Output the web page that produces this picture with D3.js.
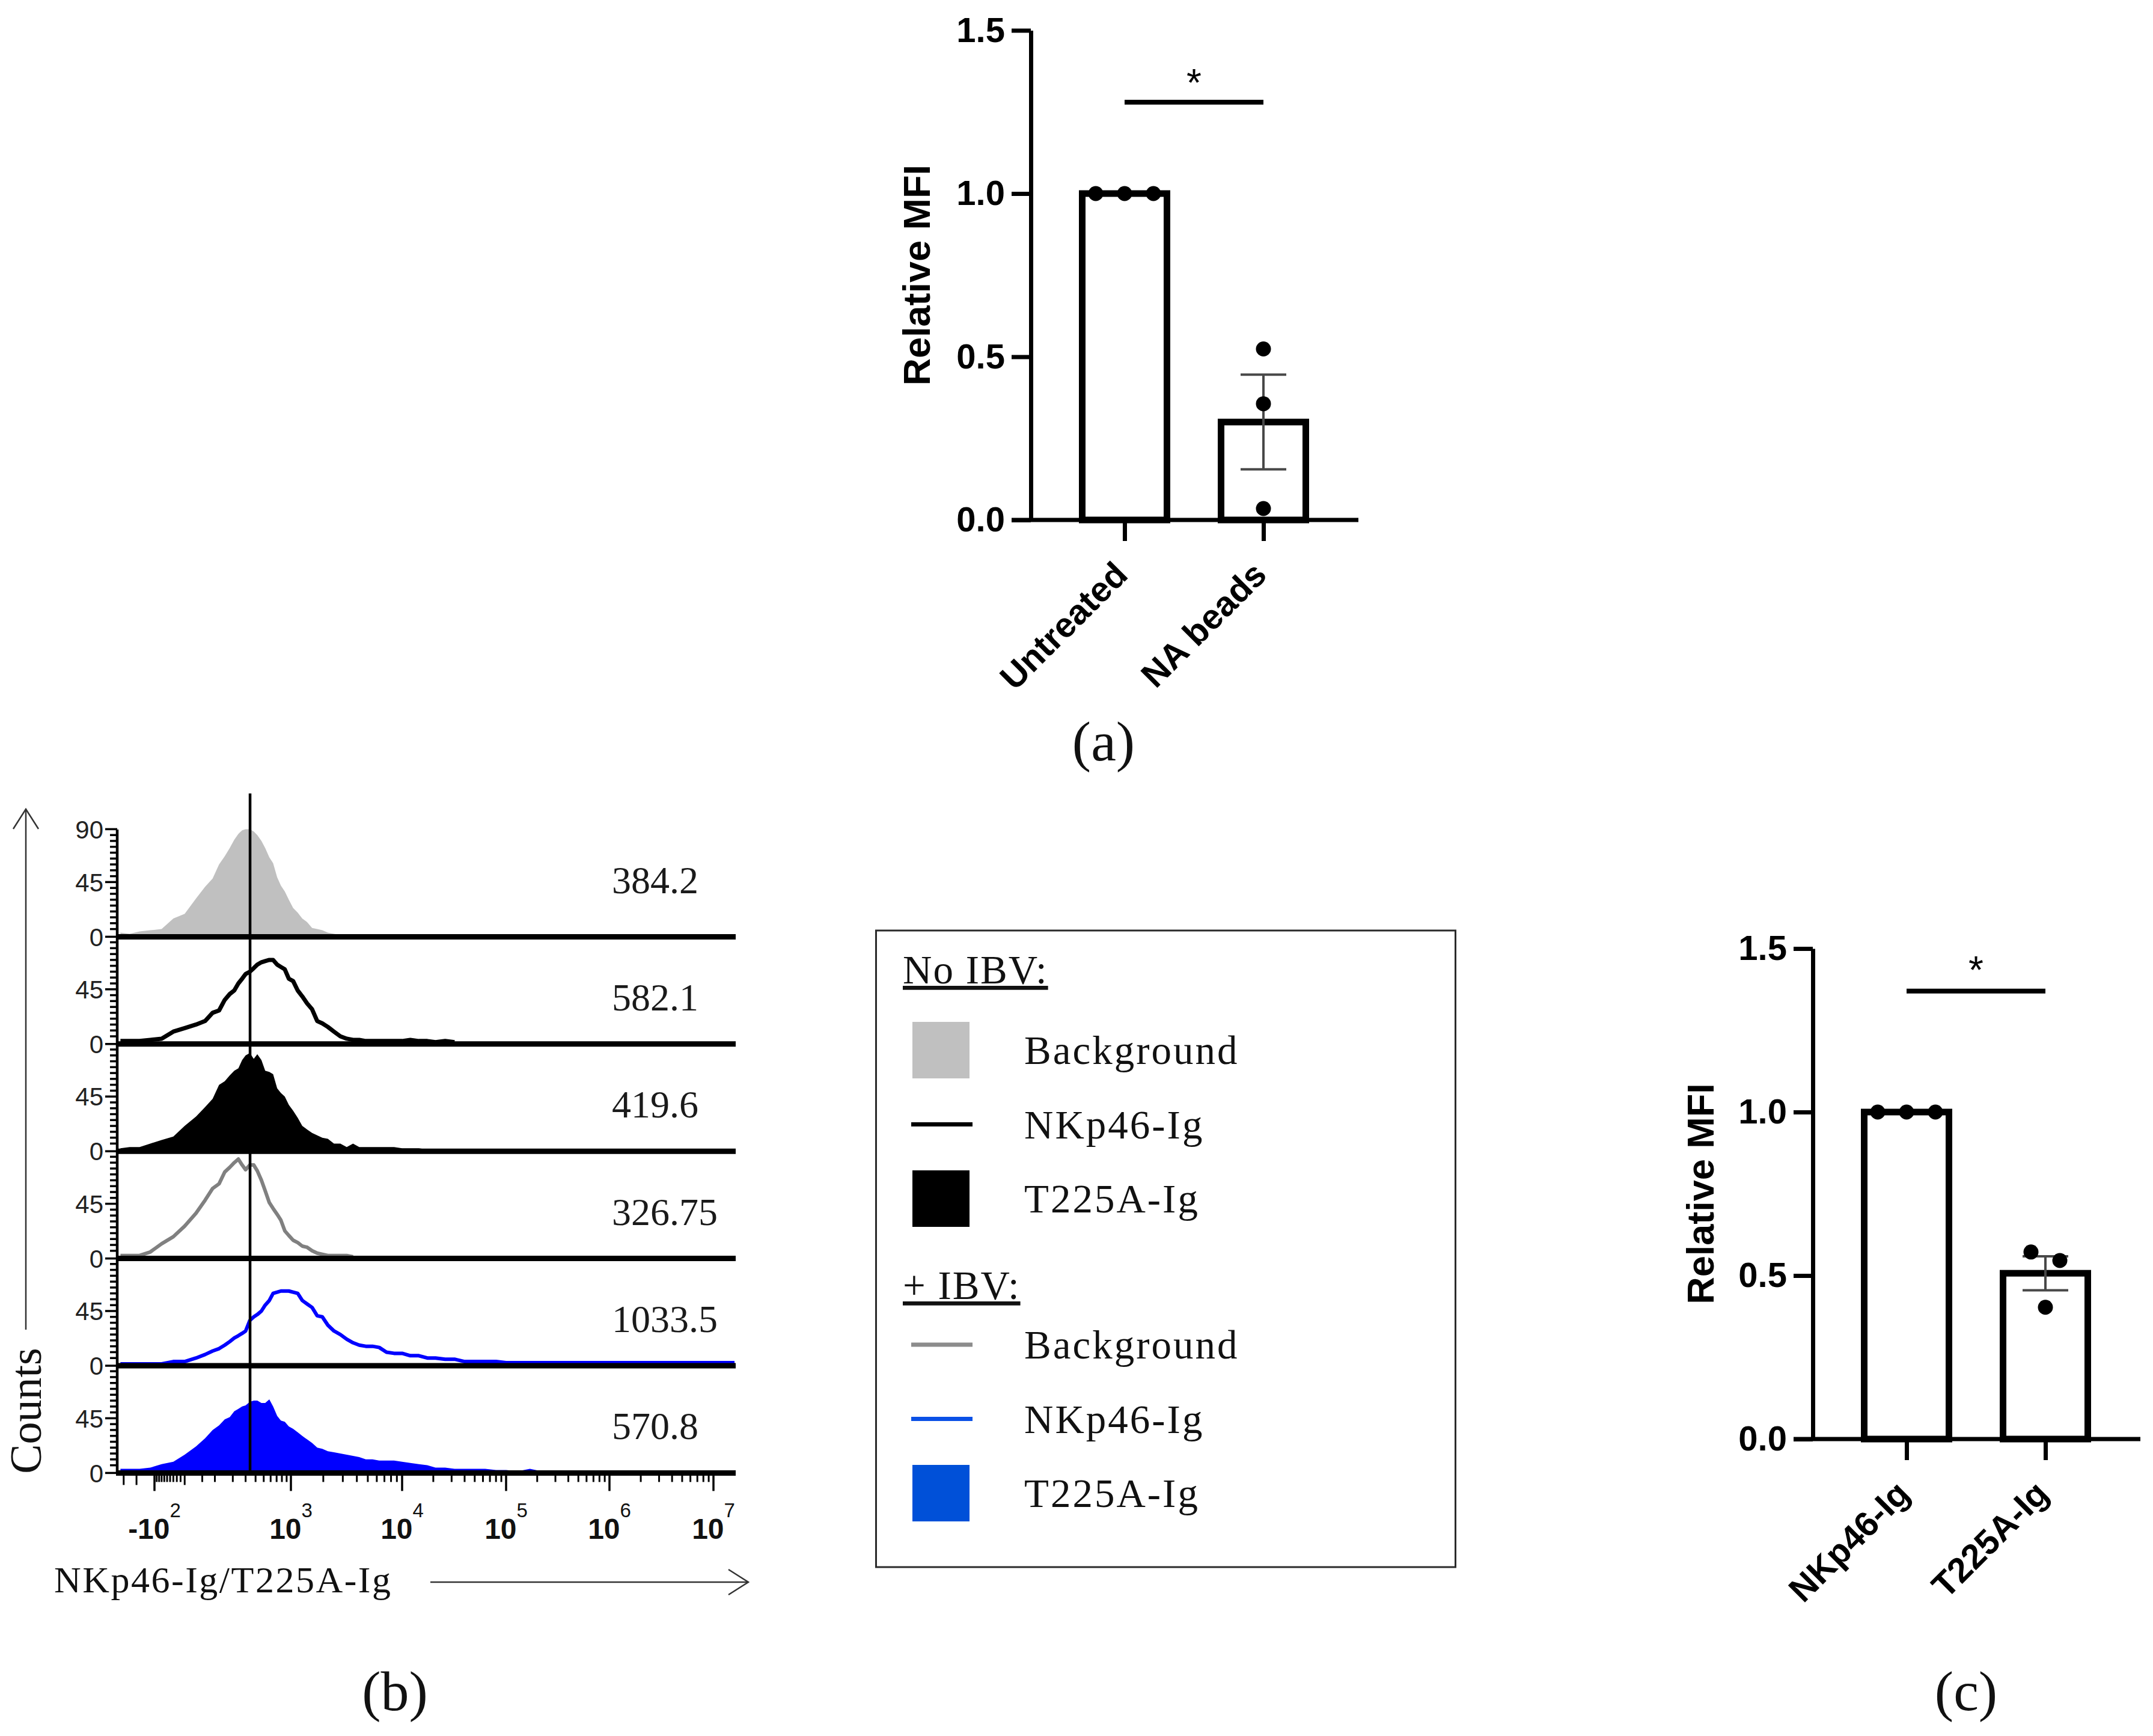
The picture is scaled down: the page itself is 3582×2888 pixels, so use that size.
<!DOCTYPE html>
<html>
<head>
<meta charset="utf-8">
<script src="https://cdn.jsdelivr.net/npm/d3@7"></script>
<style>
  body { margin: 0; background: #fff; }
</style>
</head>
<body>
<div id="chart"></div>
<script>
// ---- (a) Relative MFI, untreated vs NA beads
const groupsA = ["Untreated", "NA beads"];
const meansA = [1.0, 0.30];
const semsA = [0, 0.145];
const pointsA = [[1.0, 1.0, 1.0], [0.524, 0.356, 0.035]];
const sigA = { line: 1.28, star: 1.365 };

// ---- (c) Relative MFI, NKp46-Ig vs T225A-Ig
const groupsC = ["NKp46-Ig", "T225A-Ig"];
const meansC = [1.0, 0.507];
const semsC = [0, 0.052];
const pointsC = [[1.0, 1.0, 1.0], [0.572, 0.546, 0.403]];
const sigC = { line: 1.37, star: 1.46 };

const relTicks = [0, 0.5, 1.0, 1.5];

// ---- (b) flow histograms: shared bin positions (fluorescence) and counts per bin
const binValues = [-330, -250, -180, -120, -70, -30, 0, 30, 60, 90, 120, 150, 180, 210, 240, 270, 300,
  340, 380, 420, 470, 520, 580, 640, 710, 780, 860, 950, 1050, 1160, 1280, 1420, 1580, 1760, 1960,
  2200, 2500, 2850, 3250, 3700, 4200, 4800, 5500, 6300, 7300, 8500, 10000, 12000, 14500, 17500,
  21000, 26000, 32000, 40000, 50000, 63000, 80000, 100000, 130000, 170000, 220000, 300000,
  1000000, 10000000, 16000000];

const histBgNoIbv = [2, 1, 3, 4, 5, 14, 18, 31, 41, 48, 60, 67, 74, 81, 86, 89, 90, 90, 88, 85, 80, 74,
  66, 61, 49, 42, 37, 30, 23, 19, 14, 11, 6, 5, 4, 2, 1, 0];
const histNkp46NoIbv = [1, 1, 1, 2, 3, 9, 12, 15, 18, 25, 27, 36, 41, 44, 50, 54, 58, 60, 63, 66, 68, 69,
  70, 70, 66, 64, 62, 54, 52, 44, 39, 33, 28, 18, 16, 13, 9, 5, 3, 2, 2, 1, 1, 1, 1, 1, 1, 2, 1, 1, 0, 1, 0];
const histT225aNoIbv = [1, 2, 2, 5, 8, 11, 20, 28, 36, 43, 55, 58, 63, 67, 69, 76, 80, 82, 77, 81, 76, 67,
  66, 64, 52, 48, 45, 38, 33, 27, 20, 17, 14, 12, 10, 9, 5, 5, 2, 5, 2, 2, 2, 2, 2, 2, 1, 1, 1, 0];
const histBgIbv = [1, 1, 1, 4, 11, 17, 26, 37, 48, 58, 62, 72, 76, 80, 83, 78, 74, 78, 78, 73, 65, 56,
  46, 41, 36, 31, 22, 18, 14, 12, 9, 8, 5, 3, 2, 1, 1, 1, 1, 0];
const histNkp46Ibv = [0, 0, 0, 0, 0, 2, 2, 5, 8, 11, 13, 16, 19, 22, 24, 26, 28, 37, 40, 42, 45, 50,
  54, 60, 61, 62, 62, 62, 61, 60, 54, 51, 48, 41, 40, 33, 28, 25, 21, 18, 16, 15, 15, 14, 10, 9, 9,
  7, 7, 5, 5, 4, 4, 2, 2, 2, 2, 1, 1, 1, 1, 1, 1, 1, 1];
const histT225aIbv = [2, 2, 2, 3, 6, 8, 14, 21, 28, 35, 39, 44, 46, 51, 53, 55, 56, 59, 60, 60, 58, 58,
  61, 55, 47, 43, 42, 38, 36, 33, 30, 27, 24, 20, 19, 17, 16, 15, 14, 13, 12, 10, 10, 9, 9, 9, 8, 7,
  6, 5, 3, 3, 2, 2, 2, 2, 1, 1, 0, 2, 0];

const mfiLabels = ["384.2", "582.1", "419.6", "326.75", "1033.5", "570.8"];
const gateValue = 342;

const countTickLabels = [0, 45, 90];
const decadeTicks = [-100, 1e3, 1e4, 1e5, 1e6, 1e7];
const decadeTickLabels = [["-10", "2"], ["10", "3"], ["10", "4"], ["10", "5"], ["10", "6"], ["10", "7"]];

const legendHeaders = ["No IBV:", "+ IBV:"];
const legendNames = ["Background", "NKp46-Ig", "T225A-Ig"];

const W = 3582, H = 2888;
const sansFont = "Arial, 'Liberation Sans', Helvetica, sans-serif";
const serifFont = "'Palatino Linotype', 'Book Antiqua', Palatino, 'Liberation Serif', serif";

const svg = d3.select("#chart").append("svg")
  .attr("width", W)
  .attr("height", H)
  .attr("viewBox", `0 0 ${W} ${H}`)
  .style("background", "#fff");

// spread dots horizontally when they overlap (GraphPad-like scatter)
function swarm(values, y, r, step) {
  const placed = [];
  values.forEach(v => {
    const py = y(v);
    for (let k = 0; k < 12; k++) {
      const dx = k === 0 ? 0 : (k % 2 ? 1 : -1) * Math.ceil(k / 2) * step;
      if (placed.every(q => Math.hypot(dx - q.dx, py - q.y) >= 2 * r + 2)) {
        placed.push({ v, y: py, dx });
        break;
      }
    }
  });
  const clusters = [];
  placed.forEach(q => {
    const c = clusters.find(c => c.some(o => Math.abs(o.y - q.y) < 2 * r + 2));
    c ? c.push(q) : clusters.push([q]);
  });
  clusters.forEach(c => {
    const m = d3.mean(c, o => o.dx);
    c.forEach(o => (o.dx -= m));
  });
  return placed;
}

function drawBarPanel(p) {
  const y = d3.scaleLinear().domain([0, 1.5]).range([p.zeroY, p.zeroY - 1.5 * p.unit]);
  const x = d3.scalePoint().domain(p.groups).range([p.axisX + 156, p.axisX + 387]);
  const barW = 141;
  const g = svg.append("g");

  // bars
  g.selectAll("rect")
    .data(p.groups)
    .join("rect")
    .attr("x", d => x(d) - barW / 2)
    .attr("y", (d, i) => y(p.means[i]))
    .attr("width", barW)
    .attr("height", (d, i) => p.zeroY - y(p.means[i]))
    .attr("fill", "#fff")
    .attr("stroke", "#000")
    .attr("stroke-width", 11);

  // y axis
  const yAxis = g.append("g")
    .attr("transform", `translate(${p.axisX},0)`)
    .call(d3.axisLeft(y).tickValues(relTicks).tickFormat(d3.format(".1f"))
      .tickSize(32).tickSizeOuter(0).tickPadding(11));
  yAxis.select(".domain").attr("stroke-width", 7);
  yAxis.selectAll(".tick line").attr("stroke-width", 7);
  yAxis.selectAll(".tick text")
    .attr("font-family", sansFont)
    .attr("font-size", 58)
    .attr("font-weight", "bold")
    .attr("fill", "#000");

  // x axis
  g.append("line")
    .attr("x1", p.axisX - 32).attr("x2", p.axisX + 545)
    .attr("y1", p.zeroY).attr("y2", p.zeroY)
    .attr("stroke", "#000").attr("stroke-width", 7);
  const xAxis = g.append("g")
    .attr("transform", `translate(0,${p.zeroY})`)
    .call(d3.axisBottom(x).tickSize(35).tickSizeOuter(0).tickFormat(""));
  xAxis.select(".domain").remove();
  xAxis.selectAll(".tick line").attr("stroke-width", 7);

  g.selectAll("text.xlab")
    .data(p.groups)
    .join("text")
    .attr("class", "xlab")
    .attr("transform", d => `translate(${x(d) - 6},${p.zeroY + 80}) rotate(-45)`)
    .attr("text-anchor", "end")
    .attr("dy", "0.35em")
    .attr("font-family", sansFont)
    .attr("font-size", 58)
    .attr("font-weight", "bold")
    .text(d => d);

  // axis title
  g.append("text")
    .attr("transform", `translate(${p.titleX},${(y(0) + y(1.5)) / 2}) rotate(-90)`)
    .attr("text-anchor", "middle")
    .attr("dy", "0.36em")
    .attr("font-family", sansFont)
    .attr("font-size", 63)
    .attr("font-weight", "bold")
    .text("Relative MFI");

  // error bars (SEM)
  p.groups.forEach((gr, i) => {
    if (!p.sems[i]) return;
    const cx = x(gr), cap = 38;
    const lo = y(p.means[i] - p.sems[i]), hi = y(p.means[i] + p.sems[i]);
    const eb = g.append("g").attr("stroke", "#484848").attr("stroke-width", 4);
    eb.append("line").attr("x1", cx).attr("x2", cx).attr("y1", lo).attr("y2", hi);
    eb.append("line").attr("x1", cx - cap).attr("x2", cx + cap).attr("y1", lo).attr("y2", lo);
    eb.append("line").attr("x1", cx - cap).attr("x2", cx + cap).attr("y1", hi).attr("y2", hi);
  });

  // individual points
  p.groups.forEach((gr, i) => {
    const pts = swarm(p.points[i], y, 12.5, 48);
    g.append("g")
      .selectAll("circle")
      .data(pts)
      .join("circle")
      .attr("cx", d => x(gr) + d.dx)
      .attr("cy", d => d.y)
      .attr("r", 12.5)
      .attr("fill", "#000");
  });

  // significance bracket
  g.append("line")
    .attr("x1", x(p.groups[0])).attr("x2", x(p.groups[1]))
    .attr("y1", y(p.sig.line)).attr("y2", y(p.sig.line))
    .attr("stroke", "#000").attr("stroke-width", 8);
  g.append("text")
    .attr("x", (x(p.groups[0]) + x(p.groups[1])) / 2)
    .attr("y", y(p.sig.star) + 36)
    .attr("text-anchor", "middle")
    .attr("font-family", sansFont)
    .attr("font-size", 64)
    .text("*");
}

drawBarPanel({ groups: groupsA, means: meansA, sems: semsA, points: pointsA, sig: sigA,
  axisX: 1715, zeroY: 865, unit: 543, titleX: 1524 });
drawBarPanel({ groups: groupsC, means: meansC, sems: semsC, points: pointsC, sig: sigC,
  axisX: 3016, zeroY: 2394, unit: 544, titleX: 2828 });

// ---- (b) stacked histograms
const histX = d3.scaleSymlog().constant(105)
  .domain([-350, -100, 1e3, 1e4, 1e5, 1e6, 1e7, 1.6e7])
  .range([197, 257, 484, 669, 842, 1014, 1187, 1222]);

const stripTop = 1380, stripH = 178.4;
const axisLeftX = 195, axisRightX = 1224;
const histDefs = [
  { counts: histBgNoIbv, fill: "#c0c0c0" },
  { counts: histNkp46NoIbv, stroke: "#000", width: 7 },
  { counts: histT225aNoIbv, fill: "#000" },
  { counts: histBgIbv, stroke: "#808080", width: 6 },
  { counts: histNkp46Ibv, stroke: "#0000ff", width: 6 },
  { counts: histT225aIbv, fill: "#0000ff" }
];

const gb = svg.append("g");

histDefs.forEach((h, i) => {
  const base = stripTop + stripH * (i + 1);
  const y = d3.scaleLinear().domain([0, 90]).range([base - 3, base - 179]);
  const pts = h.counts.map((c, j) => [binValues[j], c]);
  if (h.fill) {
    const area = d3.area().x(d => histX(d[0])).y0(y(0)).y1(d => y(d[1])).curve(d3.curveLinear);
    gb.append("path").datum(pts).attr("d", area).attr("fill", h.fill);
  } else {
    const line = d3.line().x(d => histX(d[0])).y(d => y(d[1])).curve(d3.curveLinear);
    gb.append("path").datum(pts).attr("d", line)
      .attr("fill", "none").attr("stroke", h.stroke).attr("stroke-width", h.width)
      .attr("stroke-linejoin", "round");
  }

  // count ticks on the left axis
  const tv = d3.range(0, i === 0 ? 91 : 90, 5);
  gb.append("g").selectAll("line").data(tv).join("line")
    .attr("x1", d => axisLeftX - (d % 45 === 0 ? 20 : 12))
    .attr("x2", axisLeftX)
    .attr("y1", d => y(d) + 3 * (d === 0))
    .attr("y2", d => y(d) + 3 * (d === 0))
    .attr("stroke", "#000").attr("stroke-width", 3.5);
  gb.append("g").selectAll("text")
    .data(countTickLabels.filter(d => i === 0 || d < 90))
    .join("text")
    .attr("x", axisLeftX - 23)
    .attr("y", d => y(d) + 3 * (d === 0))
    .attr("dy", "0.36em")
    .attr("text-anchor", "end")
    .attr("font-family", sansFont)
    .attr("font-size", 42)
    .attr("fill", "#222")
    .text(d => d);

  // MFI value
  gb.append("text")
    .attr("x", 1018)
    .attr("y", base - (i === 0 ? 72 : 56))
    .attr("font-family", serifFont)
    .attr("font-size", 64)
    .attr("fill", "#1a1a1a")
    .text(mfiLabels[i]);
});

// strip baselines
histDefs.forEach((h, i) => {
  const base = stripTop + stripH * (i + 1);
  gb.append("line")
    .attr("x1", axisLeftX - 2).attr("x2", axisRightX)
    .attr("y1", base).attr("y2", base)
    .attr("stroke", "#000").attr("stroke-width", 9);
});
const bottomY = stripTop + stripH * histDefs.length;

// left axis line
gb.append("line")
  .attr("x1", axisLeftX).attr("x2", axisLeftX)
  .attr("y1", stripTop).attr("y2", bottomY)
  .attr("stroke", "#000").attr("stroke-width", 4.5);

// gate line
gb.append("line")
  .attr("x1", histX(gateValue)).attr("x2", histX(gateValue))
  .attr("y1", 1320).attr("y2", bottomY)
  .attr("stroke", "#000").attr("stroke-width", 4.5);

// bottom axis ticks
const minorTicks = [-300, -200, ...d3.range(-90, 0, 10), 0, 50, 100]
  .concat(...[100, 1e3, 1e4, 1e5, 1e6].map(b => d3.range(2, 10).map(m => m * b)));
gb.append("g").selectAll("line").data(minorTicks).join("line")
  .attr("x1", d => histX(d)).attr("x2", d => histX(d))
  .attr("y1", bottomY + 4).attr("y2", d => bottomY + (d === 0 || d === -300 || d === -200 ? 20 : 15))
  .attr("stroke", "#000").attr("stroke-width", 3);
gb.append("g").selectAll("line").data(decadeTicks).join("line")
  .attr("x1", d => histX(d)).attr("x2", d => histX(d))
  .attr("y1", bottomY + 4).attr("y2", bottomY + 30)
  .attr("stroke", "#000").attr("stroke-width", 3.5);

const decLab = gb.append("g").selectAll("text").data(decadeTicks).join("text")
  .attr("x", d => histX(d))
  .attr("y", 2560)
  .attr("text-anchor", "middle")
  .attr("font-family", sansFont)
  .attr("fill", "#111");
decLab.append("tspan")
  .attr("font-size", 48).attr("font-weight", "bold")
  .text((d, i) => decadeTickLabels[i][0]);
decLab.append("tspan")
  .attr("font-size", 33).attr("dy", -36)
  .text((d, i) => decadeTickLabels[i][1]);

// axis titles with arrows
gb.append("text")
  .attr("transform", "translate(42,2347) rotate(-90)")
  .attr("text-anchor", "middle")
  .attr("dy", "0.35em")
  .attr("font-family", serifFont)
  .attr("font-size", 74)
  .attr("fill", "#111")
  .text("Counts");
gb.append("line").attr("x1", 43).attr("x2", 43).attr("y1", 1346).attr("y2", 2212)
  .attr("stroke", "#333").attr("stroke-width", 2.5);
gb.append("polyline").attr("points", "22,1379 43,1346 64,1379")
  .attr("fill", "none").attr("stroke", "#333").attr("stroke-width", 2.5);

gb.append("text")
  .attr("x", 90).attr("y", 2649)
  .attr("font-family", serifFont)
  .attr("font-size", 62)
  .attr("letter-spacing", 2.5)
  .attr("fill", "#111")
  .text("NKp46-Ig/T225A-Ig");
gb.append("line").attr("x1", 716).attr("x2", 1245).attr("y1", 2632).attr("y2", 2632)
  .attr("stroke", "#333").attr("stroke-width", 2.5);
gb.append("polyline").attr("points", "1212,2611 1245,2632 1212,2653")
  .attr("fill", "none").attr("stroke", "#333").attr("stroke-width", 2.5);

// ---- legend
const lg = svg.append("g").attr("font-family", serifFont).attr("fill", "#111");
lg.append("rect")
  .attr("x", 1457.5).attr("y", 1548).attr("width", 964).attr("height", 1059)
  .attr("fill", "none").attr("stroke", "#2a2a2a").attr("stroke-width", 3);

const legendSwatches = [
  [{ type: "box", color: "#c0c0c0" }, { type: "line", color: "#000" }, { type: "box", color: "#000" }],
  [{ type: "line", color: "#8c8c8c" }, { type: "line", color: "#0a50e6" }, { type: "box", color: "#0050d8" }]
];
const headerY = [1636, 2161];
const firstRowY = [1770, 2260];
legendHeaders.forEach((hd, gi) => {
  lg.append("text")
    .attr("x", 1502).attr("y", headerY[gi])
    .attr("font-size", 67)
    .attr("letter-spacing", 2)
    .attr("text-decoration", "underline")
    .text(hd);
  legendNames.forEach((nm, ri) => {
    const by = firstRowY[gi] + ri * 123.5;
    const cy = by - 23;
    const sw = legendSwatches[gi][ri];
    if (sw.type === "box") {
      lg.append("rect").attr("x", 1518).attr("y", cy - 47).attr("width", 95).attr("height", 94)
        .attr("fill", sw.color);
    } else {
      lg.append("line").attr("x1", 1516).attr("x2", 1618).attr("y1", cy).attr("y2", cy)
        .attr("stroke", sw.color).attr("stroke-width", 7);
    }
    lg.append("text")
      .attr("x", 1704).attr("y", by)
      .attr("font-size", 67)
      .attr("letter-spacing", 3)
      .text(nm);
  });
});

// ---- panel letters
const panelLetters = [["(a)", 1836, 1265], ["(b)", 657, 2845], ["(c)", 3271, 2845]];
svg.append("g").selectAll("text").data(panelLetters).join("text")
  .attr("x", d => d[1]).attr("y", d => d[2])
  .attr("text-anchor", "middle")
  .attr("font-family", serifFont)
  .attr("font-size", 94)
  .attr("fill", "#111")
  .text(d => d[0]);
</script>
</body>
</html>
